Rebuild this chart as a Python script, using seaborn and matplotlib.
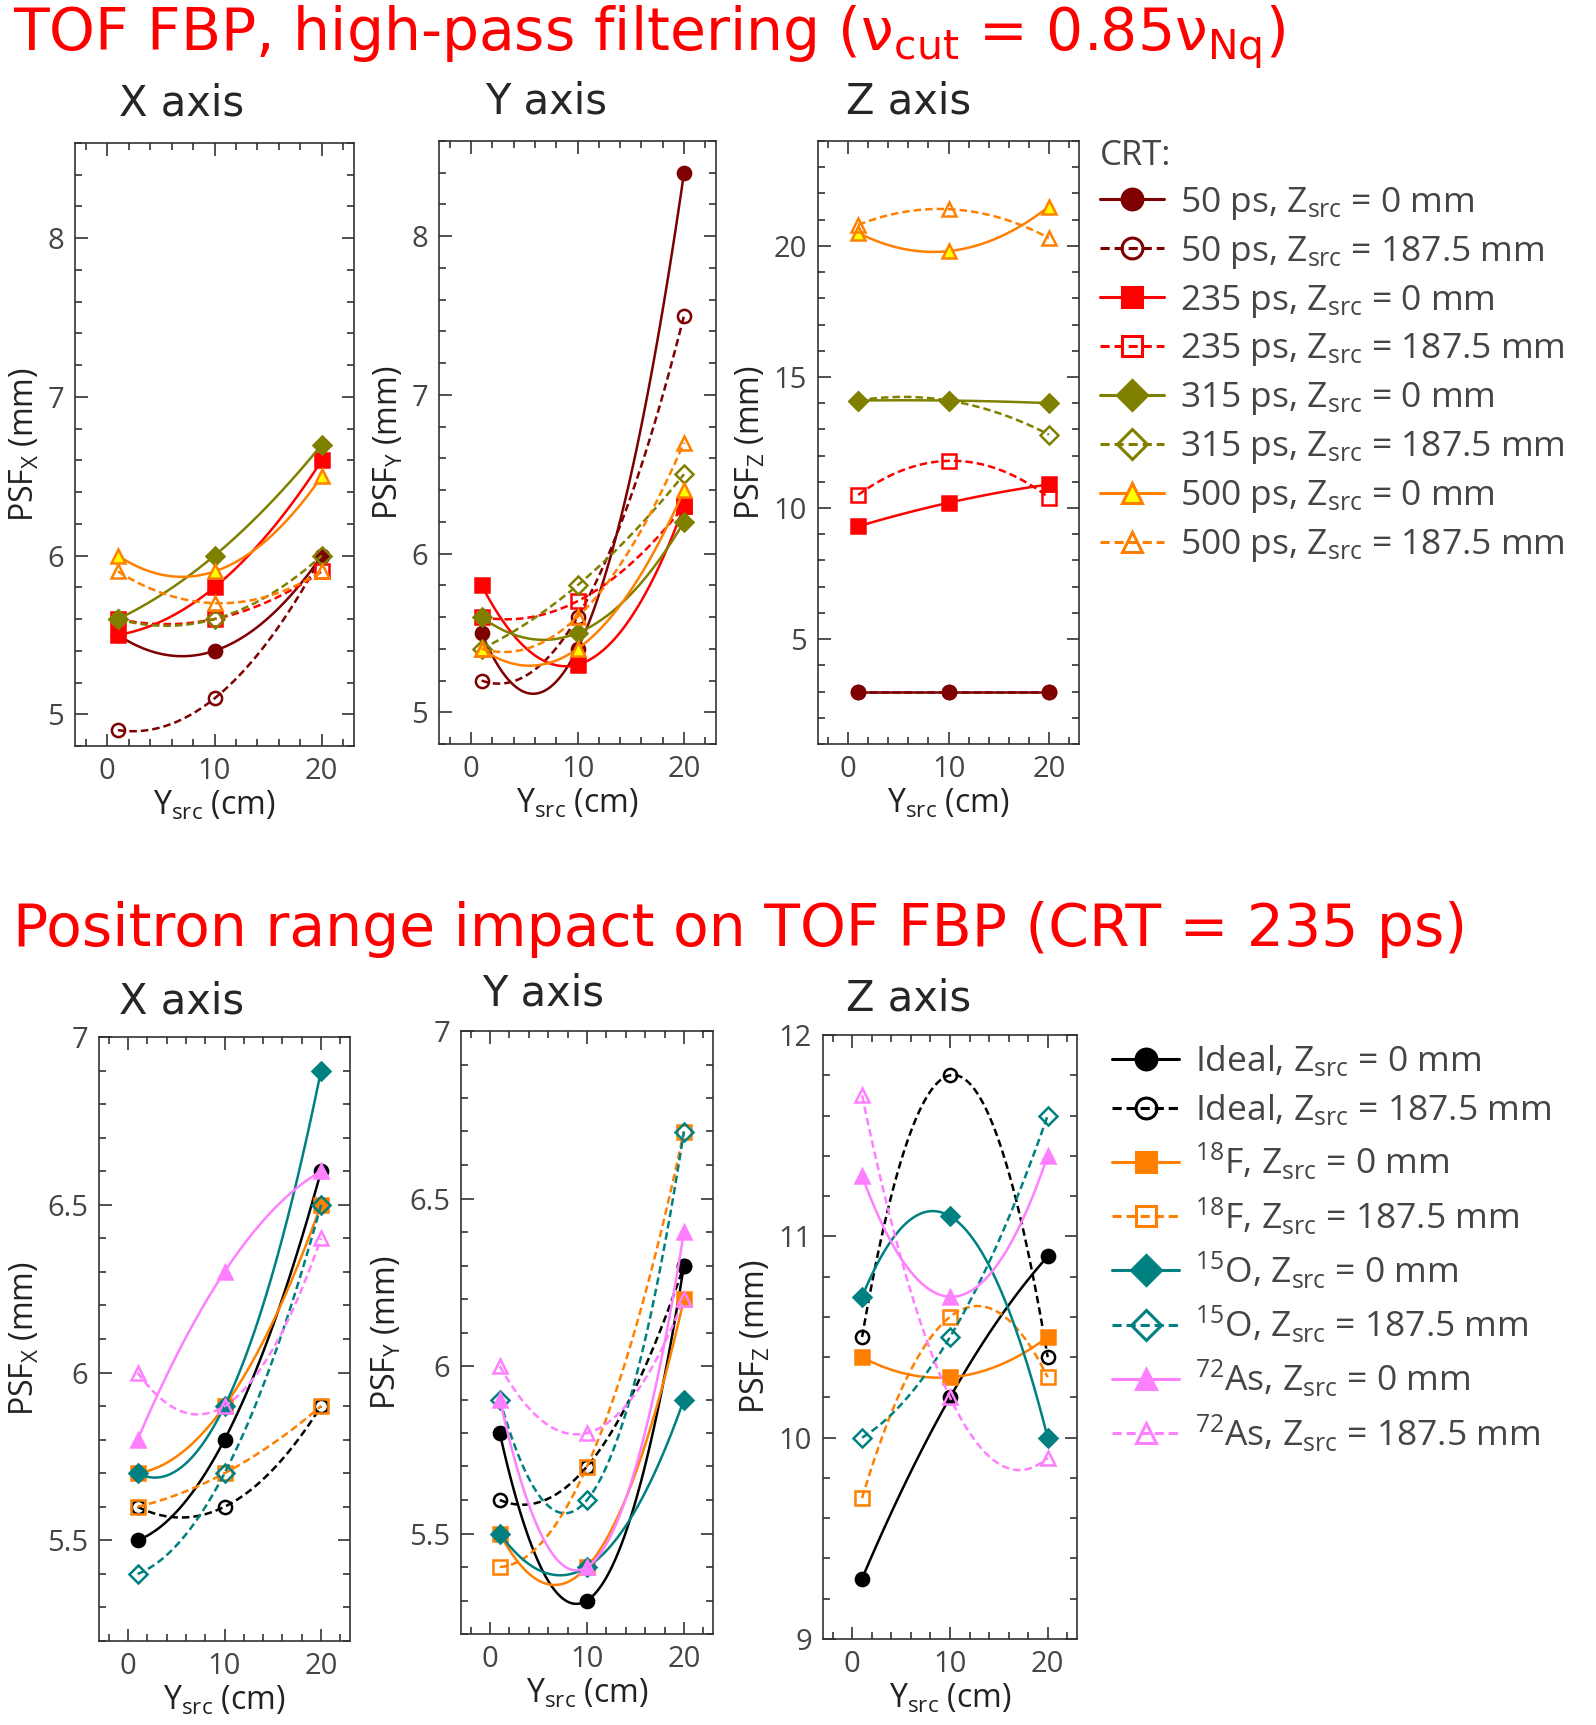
import matplotlib
matplotlib.use("Agg")
import matplotlib.pyplot as plt
from matplotlib.lines import Line2D
from matplotlib.ticker import MultipleLocator, FuncFormatter
import seaborn as sns

# ─── Data ────────────────────────────────────────────────────
Y_SRC = [1, 10, 20]

CRT_LABELS = [
    "50 ps, Z$_{src}$ = 0 mm", "50 ps, Z$_{src}$ = 187.5 mm",
    "235 ps, Z$_{src}$ = 0 mm", "235 ps, Z$_{src}$ = 187.5 mm",
    "315 ps, Z$_{src}$ = 0 mm", "315 ps, Z$_{src}$ = 187.5 mm",
    "500 ps, Z$_{src}$ = 0 mm", "500 ps, Z$_{src}$ = 187.5 mm",
]
CRT_PSF_X = [[5.5, 5.4, 6.0], [4.9, 5.1, 6.0],
             [5.5, 5.8, 6.6], [5.6, 5.6, 5.9],
             [5.6, 6.0, 6.7], [5.6, 5.6, 6.0],
             [6.0, 5.9, 6.5], [5.9, 5.7, 5.9]]
CRT_PSF_Y = [[5.5, 5.4, 8.4], [5.2, 5.6, 7.5],
             [5.8, 5.3, 6.3], [5.6, 5.7, 6.3],
             [5.6, 5.5, 6.2], [5.4, 5.8, 6.5],
             [5.4, 5.4, 6.4], [5.4, 5.6, 6.7]]
CRT_PSF_Z = [[3.0, 3.0, 3.0], [3.0, 3.0, 3.0],
             [9.3, 10.2, 10.9], [10.5, 11.8, 10.4],
             [14.1, 14.1, 14.0], [14.1, 14.1, 12.8],
             [20.5, 19.8, 21.5], [20.8, 21.4, 20.3]]

ISO_LABELS = [
    "Ideal, Z$_{src}$ = 0 mm", "Ideal, Z$_{src}$ = 187.5 mm",
    "$^{18}$F, Z$_{src}$ = 0 mm", "$^{18}$F, Z$_{src}$ = 187.5 mm",
    "$^{15}$O, Z$_{src}$ = 0 mm", "$^{15}$O, Z$_{src}$ = 187.5 mm",
    "$^{72}$As, Z$_{src}$ = 0 mm", "$^{72}$As, Z$_{src}$ = 187.5 mm",
]
ISO_PSF_X = [[5.5, 5.8, 6.6], [5.6, 5.6, 5.9],
             [5.7, 5.9, 6.5], [5.6, 5.7, 5.9],
             [5.7, 5.9, 6.9], [5.4, 5.7, 6.5],
             [5.8, 6.3, 6.6], [6.0, 5.9, 6.4]]
ISO_PSF_Y = [[5.8, 5.3, 6.3], [5.6, 5.7, 6.3],
             [5.5, 5.4, 6.2], [5.4, 5.7, 6.7],
             [5.5, 5.4, 5.9], [5.9, 5.6, 6.7],
             [5.9, 5.4, 6.4], [6.0, 5.8, 6.2]]
ISO_PSF_Z = [[9.3, 10.2, 10.9], [10.5, 11.8, 10.4],
             [10.4, 10.3, 10.5], [9.7, 10.6, 10.3],
             [10.7, 11.1, 10.0], [10.0, 10.5, 11.6],
             [11.3, 10.7, 11.4], [11.7, 10.2, 9.9]]

# ─── Styles (color, marker, linestyle, marker face) ─────────
DASH = (0, (3, 1.6))
CRT_STYLES = [
    ("#7f0000", "o", "-", "#7f0000"), ("#7f0000", "o", DASH, "none"),
    ("#ff0000", "s", "-", "#ff0000"), ("#ff0000", "s", DASH, "none"),
    ("#808000", "D", "-", "#808000"), ("#808000", "D", DASH, "none"),
    ("#ff8000", "^", "-", "#ffff00"), ("#ff8000", "^", DASH, "none"),
]
ISO_STYLES = [
    ("#000000", "o", "-", "#000000"), ("#000000", "o", DASH, "none"),
    ("#ff8000", "s", "-", "#ff8000"), ("#ff8000", "s", DASH, "none"),
    ("#008080", "D", "-", "#008080"), ("#008080", "D", DASH, "none"),
    ("#ff80ff", "^", "-", "#ff80ff"), ("#ff80ff", "^", DASH, "none"),
]

W, H = 1596, 1725
TICK_GREY = "#454545"

sns.set_style("ticks")
plt.rcParams['font.family'] = ['Open Sans', 'DejaVu Sans']
plt.rcParams['mathtext.default'] = 'regular'


def box(left, top, right, bottom):
    # pixel box -> figure fraction
    return [left / W, 1 - bottom / H, (right - left) / W, (bottom - top) / H]


def draw_panel(ax, series, styles, ylim, major, minor, ylabel):
    for vals, (color, marker, ls, face) in zip(series, styles):
        sns.regplot(x=Y_SRC, y=vals, order=2, ci=None, scatter=False,
                    truncate=True, ax=ax,
                    line_kws=dict(color=color, lw=1.8, ls=ls))
        ms = 9.5 if marker != "D" else 9
        ax.plot(Y_SRC, vals, ls="none", marker=marker, ms=ms,
                mfc=face, mec=color, mew=1.8)
    ax.set_xlim(-3, 23)
    ax.set_ylim(*ylim)
    ax.xaxis.set_major_locator(MultipleLocator(10))
    ax.xaxis.set_minor_locator(MultipleLocator(2))
    ax.yaxis.set_major_locator(MultipleLocator(major))
    ax.yaxis.set_minor_locator(MultipleLocator(minor))
    ax.yaxis.set_major_formatter(FuncFormatter(lambda v, p: f"{v:g}"))
    ax.tick_params(which="both", direction="in", top=True, right=True,
                   width=1.2, color="#333333", labelsize=21,
                   labelcolor=TICK_GREY)
    ax.tick_params(which="major", length=9, pad=8)
    ax.tick_params(which="minor", length=5)
    for sp in ax.spines.values():
        sp.set_visible(True)
        sp.set_color("#333333")
        sp.set_linewidth(1.2)
    ax.set_xlabel("Y$_{src}$ (cm)", fontsize=23, color="#222222", labelpad=2)
    ax.set_ylabel(ylabel, fontsize=23, color="#222222", labelpad=4)


def legend_handles(styles):
    return [Line2D([], [], color=c, ls=ls, lw=2.2, marker=m, ms=15,
                   mfc=f, mec=c, mew=2.2)
            for c, m, ls, f in styles]


fig = plt.figure(figsize=(W / 100, H / 100), dpi=100)

# ── Top row: CRT ─────────────────────────────────────────────
ax1 = fig.add_axes(box(75, 143, 354, 746))
ax2 = fig.add_axes(box(439, 141, 716, 744))
ax3 = fig.add_axes(box(818, 141, 1079, 744))
draw_panel(ax1, CRT_PSF_X, CRT_STYLES, (4.8, 8.6), 1, 0.2, "PSF$_X$ (mm)")
draw_panel(ax2, CRT_PSF_Y, CRT_STYLES, (4.8, 8.6), 1, 0.2, "PSF$_Y$ (mm)")
draw_panel(ax3, CRT_PSF_Z, CRT_STYLES, (1, 24), 5, 1, "PSF$_Z$ (mm)")

# ── Bottom row: isotopes ────────────────────────────────────
ax4 = fig.add_axes(box(99, 1037, 350, 1641))
ax5 = fig.add_axes(box(461, 1031, 713, 1634))
ax6 = fig.add_axes(box(823, 1035, 1077, 1639))
draw_panel(ax4, ISO_PSF_X, ISO_STYLES, (5.2, 7.0), 0.5, 0.1, "PSF$_X$ (mm)")
draw_panel(ax5, ISO_PSF_Y, ISO_STYLES, (5.2, 7.0), 0.5, 0.1, "PSF$_Y$ (mm)")
draw_panel(ax6, ISO_PSF_Z, ISO_STYLES, (9, 12), 1, 0.2, "PSF$_Z$ (mm)")

# ── Titles ──────────────────────────────────────────────────
title_kw = dict(fontsize=30, family="DejaVu Sans", ha="center", va="center")
for x, y, t in [(182, 104, "X axis"), (546, 102, "Y axis"), (909, 102, "Z axis"),
                (182, 1001, "X axis"), (543, 993, "Y axis"), (909, 998, "Z axis")]:
    fig.text(x / W, 1 - y / H, t, **title_kw)

sup_kw = dict(fontsize=42, family="DejaVu Sans", color="#ff0000",
              ha="left", va="center")
fig.text(13 / W, 1 - 38 / H,
         "TOF FBP, high-pass filtering (ν$_{cut}$ = 0.85ν$_{Nq}$)", **sup_kw)
fig.text(13 / W, 1 - 929 / H,
         "Positron range impact on TOF FBP (CRT = 235 ps)", **sup_kw)

# ── Legends ─────────────────────────────────────────────────
leg1 = fig.legend(legend_handles(CRT_STYLES), CRT_LABELS, title="CRT:",
                  loc="upper left", bbox_to_anchor=(1100 / W, 1 - 139 / H),
                  frameon=False, fontsize=25.5, title_fontsize=25,
                  alignment="left", handlelength=1.8, handletextpad=0.45,
                  labelspacing=0.335, borderpad=0, borderaxespad=0,
                  labelcolor=TICK_GREY)
leg1.get_title().set_color(TICK_GREY)

fig.legend(legend_handles(ISO_STYLES), ISO_LABELS,
           loc="upper left", bbox_to_anchor=(1112 / W, 1 - 1044 / H),
           frameon=False, fontsize=25.5, handlelength=1.9, handletextpad=0.45,
           labelspacing=0.36, borderpad=0, borderaxespad=0,
           labelcolor=TICK_GREY)

fig.savefig("out.png", dpi=100)
